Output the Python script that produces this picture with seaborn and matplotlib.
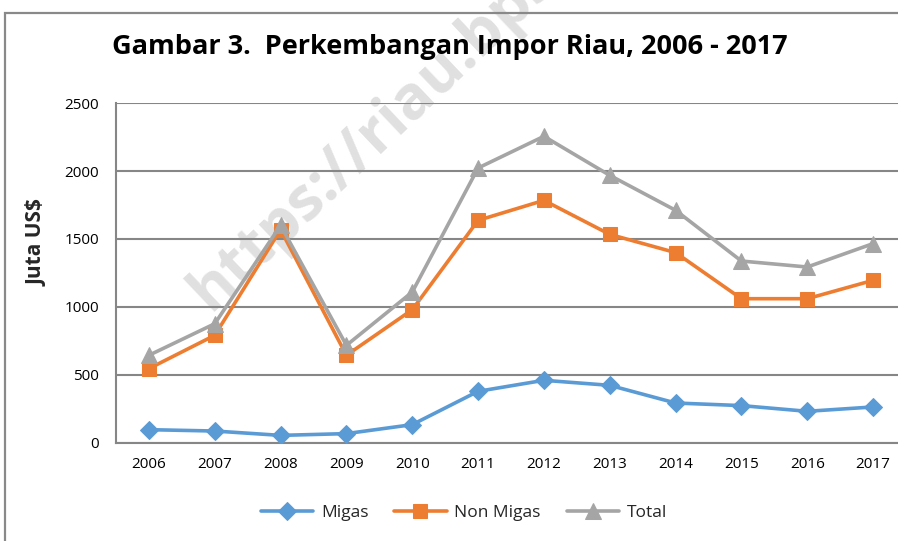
import matplotlib
matplotlib.use("Agg")
import matplotlib.pyplot as plt
import seaborn as sns
import pandas as pd
from matplotlib.patches import Rectangle
from matplotlib.ticker import FixedLocator, NullFormatter

years = ["2006", "2007", "2008", "2009", "2010", "2011",
         "2012", "2013", "2014", "2015", "2016", "2017"]
migas = [98, 88, 56, 69, 135, 380, 461, 424, 294, 275, 233, 265]
non_migas = [547, 792, 1569, 645, 980, 1637, 1784, 1534, 1400, 1061, 1061, 1196]
total = [645, 877, 1600, 718, 1110, 2022, 2255, 1968, 1711, 1338, 1294, 1466]
series_names = ["Migas", "Non Migas", "Total"]
y_ticks = [0, 500, 1000, 1500, 2000, 2500]

title_text = "Gambar 3.  Perkembangan Impor Riau, 2006 - 2017"
y_label = "Juta US$"
watermark = "https://riau.bps.go.id"

sns.set_theme(style="white")
plt.rcParams["font.family"] = ["Open Sans", "DejaVu Sans"]

df = pd.DataFrame({
    "Tahun": years * 3,
    "Nilai": migas + non_migas + total,
    "Seri": [series_names[0]] * 12 + [series_names[1]] * 12 + [series_names[2]] * 12,
})
df["x"] = list(range(12)) * 3

W, H = 898, 541
fig = plt.figure(figsize=(W / 100, H / 100), dpi=100)
fig.patch.set_facecolor("white")

ax = fig.add_axes([116 / W, (H - 443) / H, (906 - 116) / W, (443 - 103) / H])
ax.set_facecolor("white")
ax.patch.set_alpha(0)

palette = {"Migas": "#5B9BD5", "Non Migas": "#ED7D31", "Total": "#A5A5A5"}
markers = {"Migas": "D", "Non Migas": "s", "Total": "^"}
sizes = {"Migas": 9.5, "Non Migas": 10, "Total": 12}

for name in series_names:
    sub = df[df["Seri"] == name]
    sns.lineplot(data=sub, x="x", y="Nilai", ax=ax, color=palette[name],
                 marker=markers[name], markersize=sizes[name],
                 markeredgecolor=palette[name], linewidth=2.6,
                 label=name, legend=False, zorder=3)

ax.set_xlim(-0.5, 11.5)
ax.set_ylim(0, 2500)
ax.set_yticks(y_ticks)
ax.set_yticklabels([str(v) for v in y_ticks])
ax.set_xticks(range(12))
ax.set_xticklabels(years)
ax.xaxis.set_minor_locator(FixedLocator([i - 0.5 for i in range(13)]))
ax.xaxis.set_minor_formatter(NullFormatter())
ax.tick_params(axis="x", which="major", length=0, pad=10, labelsize=11, colors="black")
ax.tick_params(axis="x", which="minor", length=6, width=1.3, color="#868686", direction="out")
ax.tick_params(axis="y", which="major", length=6, width=1.3, color="#868686",
               direction="out", pad=6, labelsize=11, labelcolor="black")
ax.grid(axis="y", color="#868686", linewidth=1.5, zorder=1)
ax.set_axisbelow(True)
for s in ["top", "right"]:
    ax.spines[s].set_visible(False)
for s in ["left", "bottom"]:
    ax.spines[s].set_color("#868686")
    ax.spines[s].set_linewidth(1.5)
ax.set_xlabel("")
ax.set_ylabel(y_label, fontsize=15, fontweight="bold")
ax.yaxis.set_label_coords(-(116 - 48) / 790, 0.59)

# watermark (behind the chart)
fig.text(210 / W, 1 - 312 / H, watermark, rotation=43.5, ha="left", va="baseline",
         rotation_mode="anchor", fontsize=44, fontweight="bold",
         color="#d0d0d0", alpha=0.65, zorder=-1)

fig.text(450 / W, 1 - 47 / H, title_text, ha="center", va="center",
         fontsize=19.5, fontweight="bold", color="black", zorder=5)

handles, labels = ax.get_legend_handles_labels()
fig.legend(handles, labels, loc="center", bbox_to_anchor=(464 / W, 1 - 513 / H),
           ncol=3, frameon=False, fontsize=12.5, handlelength=3.0,
           columnspacing=1.5, handletextpad=0.45)

fig.patches.append(Rectangle((5 / W, -0.1), 1.2, 1 - 13 / H + 0.1,
                             transform=fig.transFigure, fill=False,
                             edgecolor="#898989", linewidth=1.6, zorder=0))

fig.savefig("out.png", dpi=100)
